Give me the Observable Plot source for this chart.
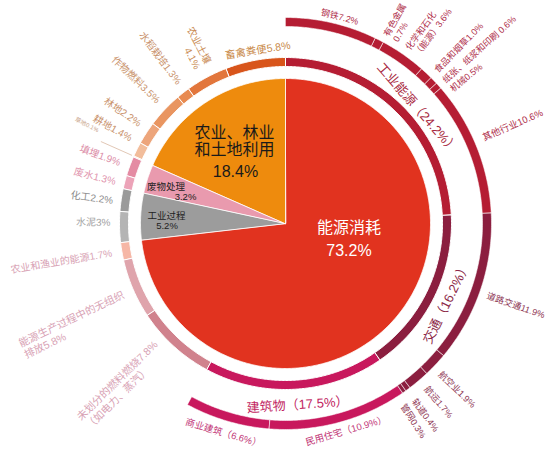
<!DOCTYPE html>
<html><head><meta charset="utf-8">
<script src="https://cdn.jsdelivr.net/npm/d3@7"></script>
<script src="https://cdn.jsdelivr.net/npm/@observablehq/plot@0.6"></script>
<style>body{margin:0;background:#fff} svg{display:block}</style>
</head><body><div id="chart"></div>
<script>
// ---------------- DATA ----------------
const pieNames = ["能源消耗", "工业过程", "废物处理", "农业、林业和土地利用"];
const pieValues = [73.2, 5.2, 3.2, 18.4];
const pieLabels = ["能源消耗", "工业过程", "废物处理", "农业、林业\n和土地利用"];
const pieValueLabels = ["73.2%", "5.2%", "3.2%", "18.4%"];

const innerNames = ["工业能源", "交通", "建筑物", "未划分的燃料燃烧", "能源生产过程中的无组织排放", "农业和渔业的能源",
  "水泥", "化工", "废水", "填埋", "草地", "耕地", "林地", "作物燃料", "水稻栽培", "农业土壤", "畜禽粪便"];
const innerValues = [24.2, 16.2, 17.5, 7.8, 5.8, 1.7, 3, 2.2, 1.3, 1.9, 0.1, 1.4, 2.2, 3.5, 1.3, 4.1, 5.8];
const innerLabels = ["工业能源（24.2%）", "交通（16.2%）", "建筑物（17.5%）", "未划分的燃料燃烧7.8%\n（如电力、蒸汽）",
  "能源生产过程中的无组织\n排放5.8%", "农业和渔业的能源1.7%", "水泥3%", "化工2.2%", "废水1.3%", "填埋1.9%",
  "草地0.1%", "耕地1.4%", "林地2.2%", "作物燃料3.5%", "水稻栽培1.3%", "农业土壤\n4.1%", "畜禽粪便5.8%"];

const outerNames = ["钢铁", "有色金属", "化学和石化（能源）", "食品和烟草", "纸张、纸浆和印刷", "机械", "其他行业",
  "道路交通", "航空业", "航运", "轨道", "管网", "民用住宅", "商业建筑"];
const outerGroups = ["工业能源", "工业能源", "工业能源", "工业能源", "工业能源", "工业能源", "工业能源",
  "交通", "交通", "交通", "交通", "交通", "建筑物", "建筑物"];
const outerValues = [7.2, 0.7, 3.6, 1.0, 0.6, 0.5, 10.6, 11.9, 1.9, 1.7, 0.4, 0.3, 10.9, 6.6];
const outerLabels = ["钢铁7.2%", "有色金属\n0.7%", "化学和石化\n（能源）3.6%", "食品和烟草1.0%", "纸张、纸浆和印刷 0.6%",
  "机械0.5%", "其他行业10.6%", "道路交通11.9%", "航空业1.9%", "航运1.7%", "轨道0.4%", "管网0.3%",
  "民用住宅（10.9%）", "商业建筑（6.6%）"];

// ---------------- STYLE / LAYOUT ----------------
const FONT = "'Liberation Sans','Noto Sans CJK SC',sans-serif";
const R_PIE = 145, R_IN0 = 157, R_IN1 = 166, R_OUT0 = 197, R_OUT1 = 206;

const pieColors = {"能源消耗": "#e1331f", "工业过程": "#9c9c9c", "废物处理": "#e99aae", "农业、林业和土地利用": "#ee8b0d"};
const pieText = {
  "能源消耗": {dx: 63.5, dy: 3.5, vdx: 63.5, vdy: 27, size: 16, color: "#fff"},
  "工业过程": {dx: -119, dy: -8, vdx: -118.5, vdy: 2.5, size: 9.5, color: "#222"},
  "废物处理": {dx: -119.5, dy: -36.5, vdx: -100, vdy: -26.5, size: 9.5, color: "#222"},
  "农业、林业和土地利用": {dx: -51, dy: -82.5, vdx: -50, vdy: -51.5, size: 16, color: "#1a1a1a"}
};
const ringColors = {
  "工业能源": "#b51d33", "交通": "#8b1e3f", "建筑物": "#c8185d",
  "未划分的燃料燃烧": "#d0828d", "能源生产过程中的无组织排放": "#dfa4ac", "农业和渔业的能源": "#f6b7a6",
  "水泥": "#b4b4b4", "化工": "#9a9a9a", "废水": "#eca3b8", "填埋": "#e48ba3",
  "草地": "#f4c8ac", "耕地": "#f2bd9b", "林地": "#eda57b", "作物燃料": "#e99560", "水稻栽培": "#e88a50",
  "农业土壤": "#e2763c", "畜禽粪便": "#d8551b"
};
const labelColors = {
  "工业能源": "#a8283e", "交通": "#8b2747", "建筑物": "#c21f63",
  "未划分的燃料燃烧": "#d8a2b4", "能源生产过程中的无组织排放": "#d8a2b4", "农业和渔业的能源": "#d8a2b4",
  "水泥": "#a3a3a3", "化工": "#8c8c8c", "废水": "#df95ae", "填埋": "#dc8ea8",
  "草地": "#c9a58c", "耕地": "#c9926c", "林地": "#c9926c", "作物燃料": "#c9926c", "水稻栽培": "#c9926c",
  "农业土壤": "#c98a52", "畜禽粪便": "#c98a4a",
  "out工业能源": "#b0304c", "out交通": "#8e3653", "out建筑物": "#c23778"
};
// label placement: angle (deg, clockwise from north), radius (px), mode, font size
const innerLayout = {
  "工业能源": {a: 48.8, r: 176, mode: "tan", size: 13},
  "交通": {a: 116.3, r: 179, mode: "tan", size: 13},
  "建筑物": {a: 176.2, r: 181, mode: "tan", size: 13},
  "未划分的燃料燃烧": {a: 225.5, r: 284, mode: "inStart", size: 10.5},
  "能源生产过程中的无组织排放": {a: 244.5, r: 292, mode: "inStart", size: 10.5},
  "农业和渔业的能源": {a: 260.5, r: 176, mode: "in", size: 10},
  "水泥": {a: 270.5, r: 175, mode: "in", size: 10},
  "化工": {a: 277.7, r: 174, mode: "in", size: 10},
  "废水": {a: 284, r: 175, mode: "in", size: 10},
  "填埋": {a: 290.3, r: 176, mode: "in", size: 10},
  "草地": {a: 296.5, r: 209, mode: "in", size: 6},
  "耕地": {a: 299, r: 176, mode: "in", size: 10},
  "林地": {a: 304.5, r: 176, mode: "in", size: 10},
  "作物燃料": {a: 314, r: 176, mode: "in", size: 10},
  "水稻栽培": {a: 323, r: 176, mode: "in", size: 10},
  "农业土壤": {a: 332.5, r: 178, mode: "in", size: 10},
  "畜禽粪便": {a: 350.9, r: 176, mode: "tan", size: 10.5}
};
const outerLayout = {
  "钢铁": {a: 14.7, r: 214, mode: "tan", size: 9},
  "有色金属": {a: 29.5, r: 213, mode: "out", size: 9},
  "化学和石化（能源）": {a: 36.3, r: 213, mode: "out", size: 9},
  "食品和烟草": {a: 44.5, r: 214, mode: "out", size: 9},
  "纸张、纸浆和印刷": {a: 48, r: 213, mode: "out", size: 9},
  "机械": {a: 51, r: 213, mode: "out", size: 9},
  "其他行业": {a: 66.5, r: 215, mode: "out", size: 9.5},
  "道路交通": {a: 109.5, r: 214, mode: "out", size: 9},
  "航空业": {a: 134, r: 215, mode: "out", size: 9},
  "航运": {a: 139.3, r: 216, mode: "out", size: 9},
  "轨道": {a: 143.8, r: 218, mode: "out", size: 9},
  "管网": {a: 147, r: 216, mode: "out", size: 9},
  "民用住宅": {a: 163.7, r: 215.5, mode: "tan", size: 9.5},
  "商业建筑": {a: 196.5, r: 218, mode: "tan", size: 9.5}
};

// ---------------- GEOMETRY ----------------
const pt = (deg, r) => { const a = deg * Math.PI / 180; return {x: r * Math.sin(a), y: -r * Math.cos(a)}; };
function cumulate(values) {
  let acc = 0;
  return values.map(v => { const a0 = acc / 100 * 360; acc += v; return {a0, a1: acc / 100 * 360}; });
}
function arcPoly(id, a0, a1, r0, r1, color) {
  const n = Math.max(2, Math.ceil((a1 - a0) / 0.5));
  const pts = [];
  for (let i = 0; i <= n; i++) pts.push({id, color, ...pt(a0 + (a1 - a0) * i / n, r1)});
  if (r0 === 0) pts.push({id, color, x: 0, y: 0});
  else for (let i = n; i >= 0; i--) pts.push({id, color, ...pt(a0 + (a1 - a0) * i / n, r0)});
  return pts;
}
function rotFor(mode, a) {
  if (mode === "tan") return (a > 90 && a < 270) ? a - 180 : (a >= 270 ? a - 360 : a);
  if (mode === "out") return a - 90;
  return a - 270;
}

const pieArcs = cumulate(pieValues);
const innerArcs = cumulate(innerValues);
const outerArcs = cumulate(outerValues);

const piePts = pieNames.flatMap((n, i) => arcPoly("p" + i, pieArcs[i].a0, pieArcs[i].a1, 0, R_PIE, pieColors[n]));
const innerPts = innerNames.flatMap((n, i) => arcPoly("i" + i, innerArcs[i].a0, innerArcs[i].a1, R_IN0, R_IN1, ringColors[n]));
const outerPts = outerNames.flatMap((n, i) => arcPoly("o" + i, outerArcs[i].a0, outerArcs[i].a1, R_OUT0, R_OUT1, ringColors[outerGroups[i]]));

const labels = [];
innerNames.forEach((n, i) => {
  const L = innerLayout[n]; const p = pt(L.a, L.r);
  const anchor = L.mode === "tan" ? "middle" : (L.mode === "in" ? "end" : "start");
  labels.push({...p, text: innerLabels[i], rotate: rotFor(L.mode, L.a), size: L.size, fill: labelColors[n], anchor});
});
outerNames.forEach((n, i) => {
  const L = outerLayout[n]; const p = pt(L.a, L.r);
  const anchor = L.mode === "tan" ? "middle" : "start";
  labels.push({...p, text: outerLabels[i], rotate: rotFor(L.mode, L.a), size: L.size, fill: labelColors["out" + outerGroups[i]], anchor});
});
const pieNameLabels = pieNames.map((n, i) => ({x: pieText[n].dx, y: pieText[n].dy, text: pieLabels[i], size: pieText[n].size, fill: pieText[n].color}));
const pieValLabels = pieNames.map((n, i) => ({x: pieText[n].vdx, y: pieText[n].vdy, text: pieValueLabels[i], size: pieText[n].size, fill: pieText[n].color}));

// leader line for the tiny 草地 slice
const gi = innerNames.indexOf("草地");
const gMid = (innerArcs[gi].a0 + innerArcs[gi].a1) / 2;
const leader = [{a: pt(gMid, 168), b: pt(gMid, 202)}];

const textMark = (anchor) => Plot.text(labels.filter(d => d.anchor === anchor), {
  x: "x", y: "y", text: "text", rotate: "rotate", fontSize: "size", fill: "fill",
  textAnchor: anchor, lineAnchor: "middle", lineHeight: 1.2, fontFamily: FONT
});

const chart = Plot.plot({
  width: 550, height: 449, margin: 0,
  x: {domain: [-285, 265], range: [0, 550], axis: null},
  y: {domain: [-223, 226], range: [0, 449], axis: null},
  color: {type: "identity"},
  style: {background: "#fff", fontFamily: FONT},
  marks: [
    Plot.line(piePts, {x: "x", y: "y", z: "id", fill: "color", stroke: "#fff", strokeWidth: 0.8, curve: "linear-closed"}),
    Plot.line(innerPts, {x: "x", y: "y", z: "id", fill: "color", stroke: "#fff", strokeWidth: 1, curve: "linear-closed"}),
    Plot.line(outerPts, {x: "x", y: "y", z: "id", fill: "color", stroke: "#fff", strokeWidth: 0.8, strokeOpacity: 0.7, curve: "linear-closed"}),
    Plot.link(leader, {x1: d => d.a.x, y1: d => d.a.y, x2: d => d.b.x, y2: d => d.b.y, stroke: "#d9b9a2", strokeWidth: 0.8}),
    textMark("start"), textMark("end"), textMark("middle"),
    Plot.text(pieNameLabels, {x: "x", y: "y", text: "text", fontSize: "size", fill: "fill", lineAnchor: "middle", lineHeight: 1.1, fontFamily: FONT}),
    Plot.text(pieValLabels, {x: "x", y: "y", text: "text", fontSize: "size", fill: "fill", lineAnchor: "middle", fontFamily: FONT})
  ]
});
document.getElementById("chart").appendChild(chart);
</script>
</body></html>
